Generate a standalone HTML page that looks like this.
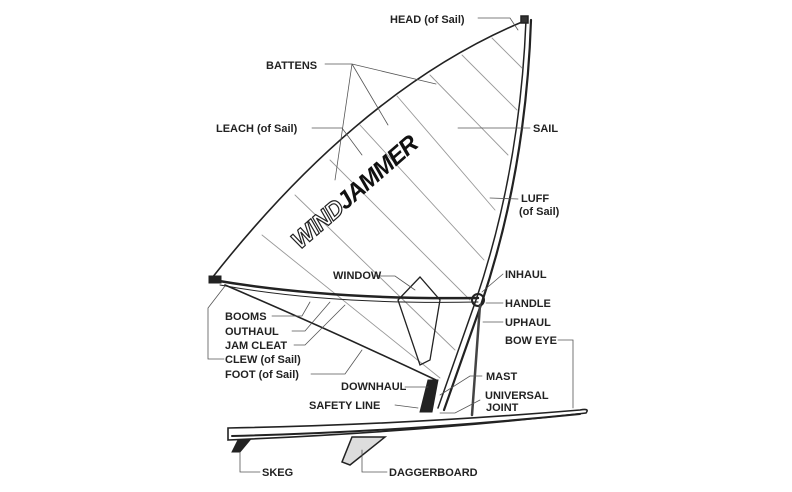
<!DOCTYPE html>
<html><head><meta charset="utf-8"><style>
html,body{margin:0;padding:0;background:#fff;}
svg{display:block;}
text{font-family:"Liberation Sans",Arial,sans-serif;font-weight:bold;font-size:11px;fill:#222;}
</style></head><body>
<svg width="792" height="492" viewBox="0 0 792 492" xmlns="http://www.w3.org/2000/svg">
<g fill="none" stroke="#222" stroke-linecap="round">
<!-- sail leach -->
<path d="M522,22 Q360,90 212,278" stroke-width="1.6"/>
<!-- foot -->
<path d="M225,285 Q330,330 436,380" stroke-width="1.6"/>
<!-- mast -->
<path d="M526,20 Q520,170 476,300 L438,408" stroke-width="1.5"/>
<path d="M531,20 Q526,170 482,302 L444,410" stroke-width="2.2"/>
<rect x="521" y="16" width="7" height="7" stroke-width="1.5" fill="#333"/>
<!-- battens -->
<g stroke="#999" stroke-width="0.9">
<path d="M492,38 L522,68"/><path d="M462,55 L517,110"/><path d="M430,75 L508,155"/>
<path d="M397,96 L495,210"/><path d="M360,125 L484,260"/><path d="M330,160 L470,300"/>
<path d="M295,195 L455,350"/><path d="M262,235 L440,378"/>
</g>
<!-- window -->
<path d="M398,300 L420,277 L440,300 L430,360 L420,365 L398,300" stroke-width="1.3"/>
<!-- boom -->
<path d="M213,280 Q330,300 478,298" stroke-width="2.5"/>
<path d="M220,285 Q330,305 478,302" stroke-width="1"/>
<rect x="209" y="276" width="12" height="7" fill="#222"/>
<circle cx="478" cy="300" r="6" stroke-width="2"/>
<!-- uphaul -->
<path d="M480,305 L472,415" stroke-width="2.5" stroke="#444"/>
<!-- mast base -->
<path d="M428,380 L438,380 L432,412 L420,412Z" fill="#222"/>
<!-- board -->
<path d="M228,428 Q400,425 580,410 Q590,408 586,413 Q420,432 228,440 Z" stroke-width="1.6" fill="#fff"/>
<path d="M232,436 Q400,432 580,414" stroke-width="2"/>
<!-- skeg -->
<path d="M238,440 L250,440 L240,452 L232,452Z" fill="#222"/>
<!-- daggerboard -->
<path d="M352,437 L385,437 L350,465 L342,462Z" stroke-width="1.5" fill="#ddd"/>
<!-- leaders -->
<g stroke="#555" stroke-width="0.8">
<path d="M478,18 L510,18 L518,30"/>
<path d="M325,64 L352,64 L436,84 M352,64 L335,180 M352,64 L388,125"/>
<path d="M312,128 L342,128 L362,155"/>
<path d="M530,128 L458,128"/>
<path d="M518,199 L490,198"/>
<path d="M375,276 L395,276 L415,290"/>
<path d="M503,274 L482,292"/>
<path d="M503,303 L486,303"/>
<path d="M503,322 L483,322"/>
<path d="M272,316 L302,316 L310,302"/>
<path d="M292,331 L305,331 L330,302"/>
<path d="M294,345 L305,345 L345,305"/>
<path d="M224,359 L208,359 L208,308 L225,286"/>
<path d="M311,374 L345,374 L362,350"/>
<path d="M482,376 L470,376 L448,390 L440,395"/>
<path d="M480,400 L455,413 L440,413"/>
<path d="M405,387 L428,387"/>
<path d="M395,405 L418,408"/>
<path d="M558,340 L573,340 L573,408"/>
<path d="M260,472 L240,472 L240,452"/>
<path d="M387,472 L362,472 L362,450"/>
</g>
</g>
<text x="300" y="250" transform="rotate(-41 300 250)" style="font-size:24px;font-style:italic;font-weight:bold;letter-spacing:-1px"><tspan fill="#fff" stroke="#222" stroke-width="1.2">WIND</tspan><tspan fill="#111">JAMMER</tspan></text>
<text x="390" y="23">HEAD (of Sail)</text>
<text x="266" y="69">BATTENS</text>
<text x="216" y="132">LEACH (of Sail)</text>
<text x="533" y="132">SAIL</text>
<text x="521" y="202">LUFF</text>
<text x="519" y="215">(of Sail)</text>
<text x="333" y="279">WINDOW</text>
<text x="505" y="278">INHAUL</text>
<text x="505" y="307">HANDLE</text>
<text x="225" y="320">BOOMS</text>
<text x="505" y="326">UPHAUL</text>
<text x="225" y="335">OUTHAUL</text>
<text x="505" y="344">BOW EYE</text>
<text x="225" y="349">JAM CLEAT</text>
<text x="225" y="363">CLEW (of Sail)</text>
<text x="225" y="378">FOOT (of Sail)</text>
<text x="486" y="380">MAST</text>
<text x="341" y="390">DOWNHAUL</text>
<text x="485" y="399">UNIVERSAL</text>
<text x="486" y="411">JOINT</text>
<text x="309" y="409">SAFETY LINE</text>
<text x="262" y="476">SKEG</text>
<text x="389" y="476">DAGGERBOARD</text>
</svg>
</body></html>
